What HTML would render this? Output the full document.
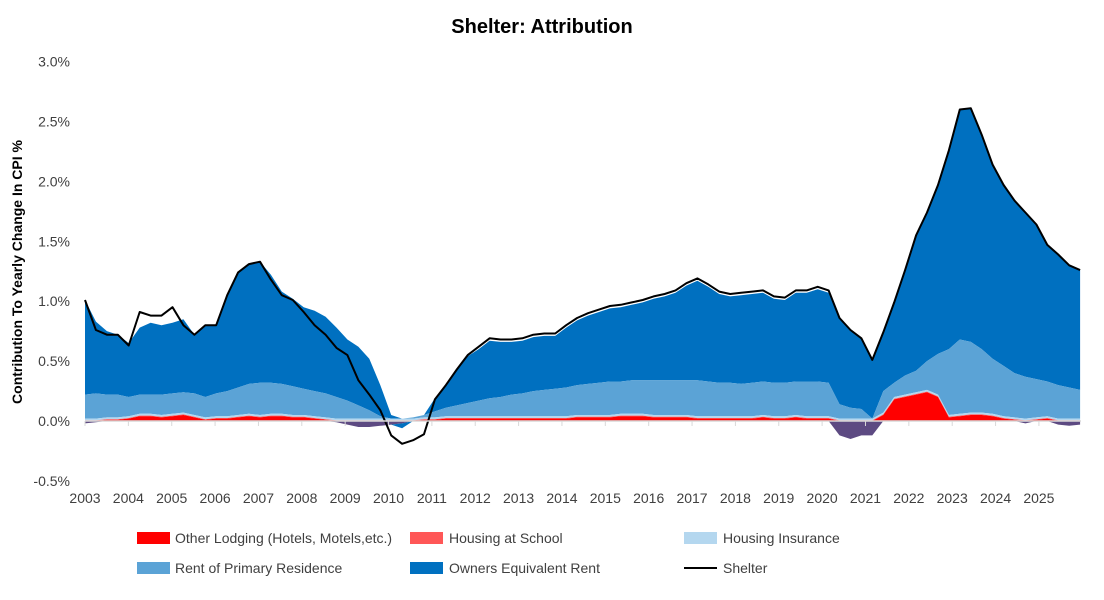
<!DOCTYPE html>
<html><head><meta charset="utf-8"><style>
body{margin:0;background:#fff;font-family:"Liberation Sans",Arial,sans-serif}
svg text{font-family:"Liberation Sans",Arial,sans-serif}
</style></head><body>
<svg id="c" width="1104" height="595">
<text x="542" y="33" text-anchor="middle" font-size="20" font-weight="bold" fill="#000">Shelter: Attribution</text>
<text transform="translate(22,272) rotate(-90)" text-anchor="middle" font-size="14" font-weight="bold" fill="#000">Contribution To Yearly Change In CPI  %</text>
<g id="plot"></g>
<g id="axes"></g>
<g id="legend">
 <rect x="137" y="532" width="33" height="12" fill="#ff0000"/>
 <text x="175" y="543" font-size="14" fill="#404040">Other Lodging (Hotels, Motels,etc.)</text>
 <rect x="410" y="532" width="33" height="12" fill="#ff5757"/>
 <text x="449" y="543" font-size="14" fill="#404040">Housing at School</text>
 <rect x="684" y="532" width="33" height="12" fill="#b4d7ef"/>
 <text x="723" y="543" font-size="14" fill="#404040">Housing Insurance</text>
 <rect x="137" y="562" width="33" height="12" fill="#5ba3d6"/>
 <text x="175" y="573" font-size="14" fill="#404040">Rent of Primary Residence</text>
 <rect x="410" y="562" width="33" height="12" fill="#0070c0"/>
 <text x="449" y="573" font-size="14" fill="#404040">Owners Equivalent Rent</text>
 <line x1="684" y1="568" x2="717" y2="568" stroke="#000" stroke-width="2"/>
 <text x="723" y="573" font-size="14" fill="#404040">Shelter</text>
</g>
</svg>
<script>
const yTicks=[3.0,2.5,2.0,1.5,1.0,0.5,0.0,-0.5];
const years=[2003,2004,2005,2006,2007,2008,2009,2010,2011,2012,2013,2014,2015,2016,2017,2018,2019,2020,2021,2022,2023,2024,2025];
const lodging=[-0.02,-0.01,0.01,0.01,0.02,0.04,0.04,0.03,0.04,0.05,0.03,0.01,0.02,0.02,0.03,0.04,0.03,0.04,0.04,0.03,0.03,0.02,0.01,-0.01,-0.03,-0.05,-0.05,-0.04,-0.03,-0.02,0.00,0.01,0.01,0.02,0.02,0.02,0.02,0.02,0.02,0.02,0.02,0.02,0.02,0.02,0.02,0.03,0.03,0.03,0.03,0.04,0.04,0.04,0.03,0.03,0.03,0.03,0.02,0.02,0.02,0.02,0.02,0.02,0.03,0.02,0.02,0.03,0.02,0.02,0.02,-0.12,-0.15,-0.12,-0.12,0.05,0.18,0.20,0.22,0.24,0.20,0.03,0.04,0.05,0.05,0.04,0.02,0.01,-0.02,0.01,0.02,-0.03,-0.04,-0.03];
const school=new Array(92).fill(0.005);
const insurance=new Array(92).fill(0.015);
const rent=[0.20,0.21,0.19,0.19,0.16,0.16,0.16,0.17,0.17,0.17,0.18,0.17,0.19,0.21,0.23,0.25,0.27,0.26,0.25,0.24,0.22,0.21,0.20,0.18,0.15,0.11,0.07,0.02,0.00,0.00,0.01,0.02,0.05,0.07,0.09,0.11,0.13,0.15,0.16,0.18,0.19,0.21,0.22,0.23,0.24,0.25,0.26,0.27,0.28,0.27,0.28,0.28,0.29,0.29,0.29,0.29,0.30,0.29,0.28,0.28,0.27,0.28,0.28,0.28,0.28,0.28,0.29,0.29,0.28,0.12,0.09,0.08,0.00,0.18,0.12,0.16,0.18,0.24,0.34,0.55,0.62,0.59,0.53,0.46,0.42,0.37,0.35,0.32,0.29,0.28,0.26,0.24];
const oer=[0.79,0.60,0.53,0.50,0.45,0.56,0.60,0.58,0.59,0.61,0.49,0.60,0.57,0.80,0.96,1.00,1.01,0.90,0.77,0.73,0.68,0.67,0.64,0.58,0.51,0.49,0.43,0.26,0.03,-0.04,0.00,0.00,0.11,0.19,0.30,0.39,0.43,0.48,0.46,0.44,0.44,0.45,0.45,0.44,0.50,0.54,0.57,0.59,0.61,0.62,0.63,0.65,0.68,0.70,0.73,0.79,0.83,0.79,0.74,0.72,0.74,0.74,0.74,0.70,0.69,0.74,0.74,0.77,0.75,0.72,0.65,0.59,0.49,0.49,0.67,0.88,1.13,1.24,1.41,1.66,1.92,1.95,1.79,1.62,1.51,1.44,1.37,1.29,1.14,1.09,1.02,1.00];
const shelter=[1.01,0.76,0.72,0.72,0.63,0.91,0.88,0.88,0.95,0.80,0.72,0.80,0.80,1.05,1.24,1.31,1.33,1.18,1.05,1.01,0.91,0.80,0.72,0.61,0.55,0.34,0.22,0.09,-0.12,-0.19,-0.16,-0.11,0.18,0.30,0.43,0.55,0.62,0.69,0.68,0.68,0.69,0.72,0.73,0.73,0.80,0.86,0.90,0.93,0.96,0.97,0.99,1.01,1.04,1.06,1.09,1.15,1.19,1.14,1.08,1.06,1.07,1.08,1.09,1.04,1.03,1.09,1.09,1.12,1.09,0.86,0.76,0.69,0.51,0.74,0.99,1.26,1.55,1.74,1.97,2.26,2.60,2.61,2.39,2.14,1.97,1.84,1.74,1.64,1.47,1.39,1.30,1.26];

const NS="http://www.w3.org/2000/svg";
const X0=85,PXY=43.36,Y0=421,PXV=119.8;
const xs=y=>X0+(y-2003)*PXY;
const ys=v=>Y0-v*PXV;
const tAt=i=>2003+i*(22.95/91);
const plot=document.getElementById('plot'),axes=document.getElementById('axes');
function mk(tag,attrs,parent){const e=document.createElementNS(NS,tag);for(const k in attrs)e.setAttribute(k,attrs[k]);parent.appendChild(e);return e;}
// stacking
const series=[lodging,school,insurance,rent,oer];
const colors=["#ff0000","#ff5757","#b4d7ef","#5ba3d6","#0070c0"];
const negColors=["#5d4a82","#ff5757","#b4d7ef","#5ba3d6","#0070c0"];
const names=["area-other-lodging","area-housing-at-school","area-housing-insurance","area-rent","area-oer"];
const n=shelter.length;
let posBase=new Array(n).fill(0),negBase=new Array(n).fill(0);
const layers=[];
series.forEach((s,k)=>{
  const pl=[],pu=[],nl=[],nu=[];
  for(let i=0;i<n;i++){
    const v=s[i];
    const p=Math.max(v,0),q=Math.min(v,0);
    pl.push(posBase[i]);pu.push(posBase[i]+p);posBase[i]+=p;
    nl.push(negBase[i]);nu.push(negBase[i]+q);negBase[i]+=q;
  }
  layers.push({k,pl,pu,nl,nu});
});
function areaPath(lo,hi){
  let d="";
  for(let i=0;i<n;i++)d+=(i?"L":"M")+xs(tAt(i)).toFixed(1)+","+ys(hi[i]).toFixed(1);
  for(let i=n-1;i>=0;i--)d+="L"+xs(tAt(i)).toFixed(1)+","+ys(lo[i]).toFixed(1);
  return d+"Z";
}
for(let k=layers.length-1;k>=0;k--){
  const L=layers[k];
  const e=mk('path',{d:areaPath(L.pl,L.pu),fill:colors[k]},plot);
  
  
}
layers.forEach(L=>{
  const e=mk('path',{d:areaPath(L.nl,L.nu),fill:negColors[L.k]},plot);
  
  
});
// zero axis
const za=mk('line',{x1:X0,x2:1081,y1:Y0,y2:Y0,stroke:"#d9d9d9","stroke-width":1.5},axes);


years.forEach(y=>{
  const x=xs(y);
  const t=mk('line',{x1:x,x2:x,y1:Y0,y2:Y0+5,stroke:"#d9d9d9"},axes);
  
  
  const l=mk('text',{x:x,y:503,"text-anchor":"middle","font-size":14,fill:"#404040"},axes);
  l.textContent=y;
  
  
});
yTicks.forEach(v=>{
  const l=mk('text',{x:70,y:ys(v)+5,"text-anchor":"end","font-size":14,fill:"#404040"},axes);
  l.textContent=v.toFixed(1)+"%";
  
  
});
// shelter line
let d="";
shelter.forEach((v,i)=>{d+=(i?"L":"M")+xs(tAt(i)).toFixed(1)+","+ys(v).toFixed(1);});
const sl=mk('path',{d:d,fill:"none",stroke:"#000","stroke-width":2,"stroke-linejoin":"round"},plot);


</script>
</body></html>
